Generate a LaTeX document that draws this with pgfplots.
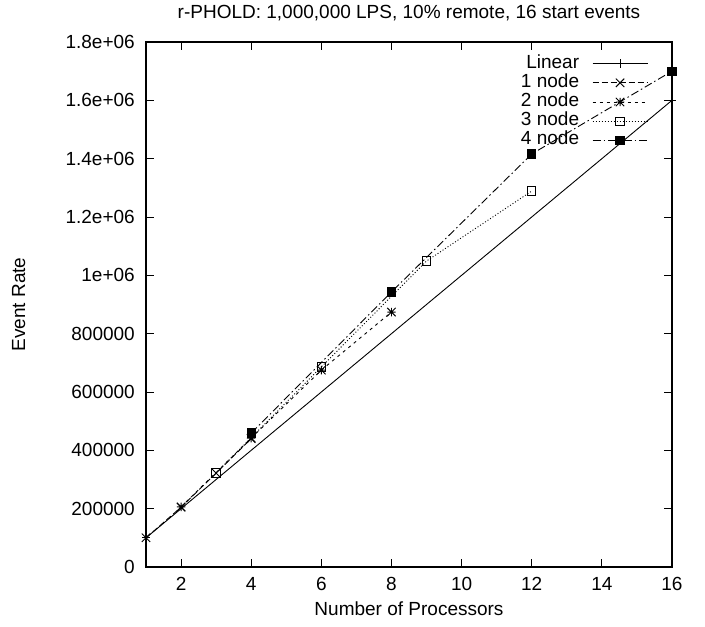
\documentclass[border=0pt]{standalone}
\usepackage{fontspec}
\setmainfont{Liberation Sans}
\usepackage{pgfplots}
\pgfplotsset{compat=1.18}
\newcommand\gf{\fontsize{19bp}{22bp}\selectfont}
\pgfdeclareplotmark{gpx}{%
  \pgfpathmoveto{\pgfqpoint{-\pgfplotmarksize}{-\pgfplotmarksize}}%
  \pgfpathlineto{\pgfqpoint{\pgfplotmarksize}{\pgfplotmarksize}}%
  \pgfpathmoveto{\pgfqpoint{-\pgfplotmarksize}{\pgfplotmarksize}}%
  \pgfpathlineto{\pgfqpoint{\pgfplotmarksize}{-\pgfplotmarksize}}%
  \pgfusepathqstroke}
\pgfdeclareplotmark{gpstar}{%
  \pgfpathmoveto{\pgfqpoint{-\pgfplotmarksize}{-\pgfplotmarksize}}%
  \pgfpathlineto{\pgfqpoint{\pgfplotmarksize}{\pgfplotmarksize}}%
  \pgfpathmoveto{\pgfqpoint{-\pgfplotmarksize}{\pgfplotmarksize}}%
  \pgfpathlineto{\pgfqpoint{\pgfplotmarksize}{-\pgfplotmarksize}}%
  \pgfpathmoveto{\pgfqpoint{-\pgfplotmarksize}{0pt}}%
  \pgfpathlineto{\pgfqpoint{\pgfplotmarksize}{0pt}}%
  \pgfpathmoveto{\pgfqpoint{0pt}{-\pgfplotmarksize}}%
  \pgfpathlineto{\pgfqpoint{0pt}{\pgfplotmarksize}}%
  \pgfusepathqstroke}
\begin{document}
\begin{tikzpicture}
\path[use as bounding box] (-146bp,-60bp) rectangle (559bp,567bp);
\begin{axis}[
  scale only axis,
  width=526bp, height=525bp,
  xmin=1, xmax=16, ymin=0, ymax=1800000,
  xtick={2,4,6,8,10,12,14,16},
  xticklabels={2,4,6,8,10,12,14,16},
  ytick={0,200000,400000,600000,800000,1000000,1200000,1400000,1600000,1800000},
  yticklabels={0,200000,400000,600000,800000,1e+06,1.2e+06,1.4e+06,1.6e+06,1.8e+06},
  scaled x ticks=false, scaled y ticks=false,
  tick align=inside,
  major tick length=8bp,
  tick style={black, line width=0.9bp},
  axis line style={line width=1.3bp},
  xticklabel style={font=\gf, inner sep=0pt, anchor=base, yshift=-23bp},
  yticklabel style={font=\gf, inner sep=0pt, anchor=east, xshift=-11bp},
  title={r-PHOLD: 1,000,000 LPS, 10\% remote, 16 start events},
  title style={font=\gf, inner sep=0pt, at={(axis description cs:0.5,1.0343)}, anchor=base},
  xlabel={Number of Processors},
  xlabel style={font=\gf, inner sep=0pt, at={(axis description cs:0.5,-0.0933)}, anchor=base},
  ylabel={Event Rate},
  ylabel style={font=\gf, inner sep=0pt, at={(axis description cs:-0.2300,0.5)}, anchor=base, rotate=0},
  legend plot pos=right,
  legend cell align=right,
  legend image code/.code={\draw[mark repeat=2,mark phase=2,#1] plot coordinates {(0bp,0bp) (27.5bp,0bp) (55bp,0bp)};},
  legend style={font=\gf, draw=none, fill=none, inner sep=0pt, outer sep=0pt,
    column sep=13bp, row sep=0pt,
    nodes={inner sep=0pt, text height=14bp, text depth=5.2bp},
    at={(axis description cs:0.95437,0.9771)}, anchor=north east},
  every axis plot/.append style={black, line width=0.9bp, mark size=4.2bp},
]
\addplot[solid, mark=+, mark options={solid}] coordinates {(1,100000) (16,1600000)};
\addlegendentry{Linear}
\addplot[dash pattern=on 6bp off 3bp, mark=gpx, mark options={solid}] coordinates {(1,100000) (2,205000) (3,322000) (4,440000)};
\addlegendentry{1 node}
\addplot[dash pattern=on 3bp off 4bp, mark=gpstar, mark options={solid}] coordinates {(2,206000) (4,442000) (6,675000) (8,874000)};
\addlegendentry{2 node}
\addplot[dash pattern=on 1bp off 2bp, mark=square, mark options={solid}] coordinates {(3,322000) (6,686000) (9,1049000) (12,1289000)};
\addlegendentry{3 node}
\addplot[dash pattern=on 8bp off 3bp on 1.5bp off 3bp, mark=square*, mark options={solid}] coordinates {(4,459000) (8,943000) (12,1416000) (16,1700000)};
\addlegendentry{4 node}
\end{axis}
\end{tikzpicture}
\end{document}
